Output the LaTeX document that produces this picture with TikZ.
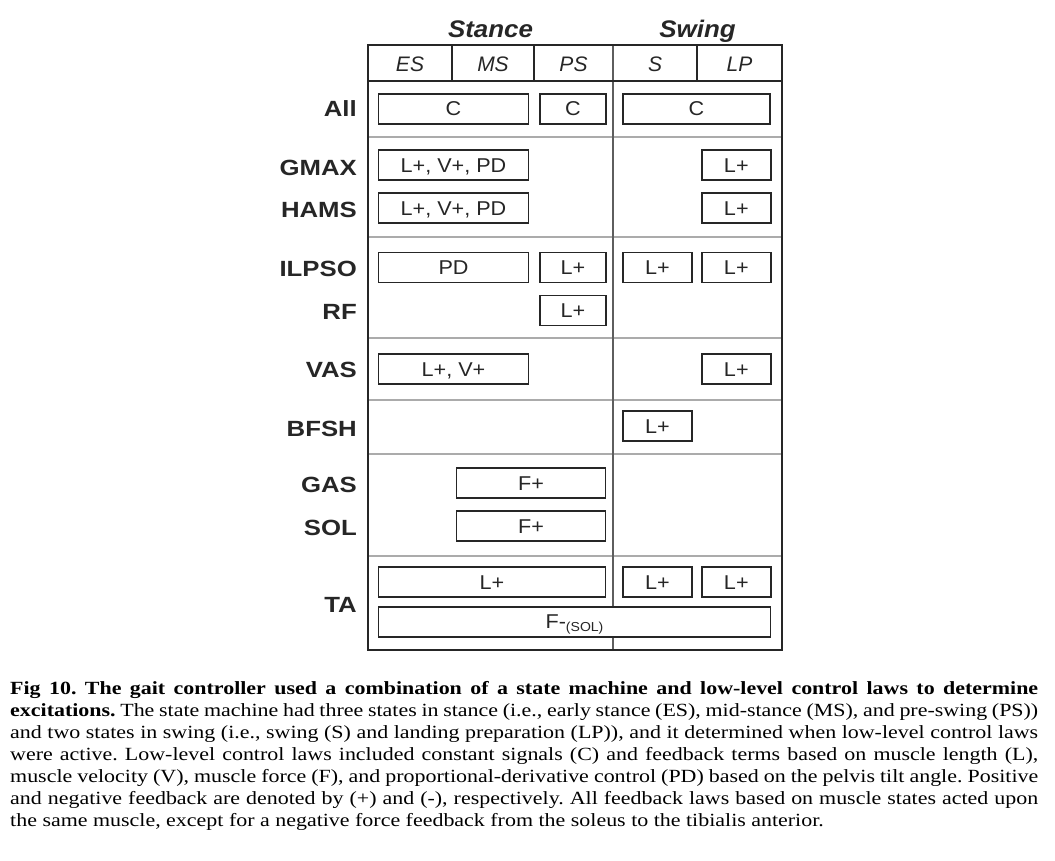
\documentclass[tikz,border=0pt]{standalone}
\usepackage{fontspec}
\setmainfont{Liberation Serif}
\setsansfont{Liberation Sans}
\newfontfamily\musclefont[FakeStretch=1.17]{Liberation Sans}
\newfontfamily\lawfont[FakeStretch=1.08]{Liberation Sans}
\newfontfamily\phasefont[FakeStretch=1.08]{Liberation Sans}
\newfontfamily\captionfont[FakeStretch=1.18]{Liberation Serif}
\usetikzlibrary{positioning}
\definecolor{gridgray}{HTML}{ABABAB}
\definecolor{rulegray}{HTML}{5E5E5E}
\definecolor{inkgray}{HTML}{262626}

\begin{document}
\begin{tikzpicture}[x=1pt,y=-1pt,font=\sffamily,color=inkgray]
      \tikzstyle{law}=[draw=inkgray,fill=white,line width=1.8pt,minimum height=30pt,inner sep=0pt,
        text height=14.3pt,text depth=0pt,font=\lawfont\fontsize{20}{24}\selectfont]
      \tikzstyle{muscle}=[anchor=base east,inner sep=0pt,font=\musclefont\bfseries\fontsize{22}{26}\selectfont]
      \tikzstyle{state}=[inner sep=0pt,font=\sffamily\itshape\fontsize{21}{25}\selectfont]
      \tikzstyle{phase}=[anchor=base,inner sep=0pt,font=\phasefont\bfseries\itshape\fontsize{24}{28}\selectfont]
      \useasboundingbox (0,0) rectangle (1055,860);

      % table grid
      \foreach \y in {137,237,338,400,454,556}
        \draw[gridgray,line width=2pt] (368,\y) -- (782,\y);
      \draw[rulegray,line width=1.6pt] (613,45) -- (613,650);
      \foreach \x in {452,534,697}
        \draw[inkgray,line width=1.6pt] (\x,45) -- (\x,81);
      \draw[inkgray,line width=1.6pt] (368,81) -- (782,81);
      \draw[inkgray,line width=2pt] (368,45) rectangle (782,650);

      \begin{scope}
        \node[phase](stance) at (490.5,37.5){Stance};
        \node[phase](swing) at (697.5,37.5){Swing};

        \node[state](es) at (410,64){ES};
        \node[state](ms) at (493,64){MS};
        \node[state](ps) at (573.5,64){PS};
        \node[state](s) at (655,64){S};
        \node[state](lp) at (739.5,64){LP};

        % muscles
        \node[muscle](all) at (357,116.7){All};
        \node[muscle](gmax) at (357,175){GMAX};
        \node[muscle](hams) at (357,217.3){HAMS};
        \node[muscle](ilpso) at (357,276.7){ILPSO};
        \node[muscle](rf) at (357,319.3){RF};
        \node[muscle](vas) at (357,377.3){VAS};
        \node[muscle](bfsh) at (357,436.7){BFSH};
        \node[muscle](gas) at (357,492.3){GAS};
        \node[muscle](sol) at (357,535){SOL};
        \node[muscle](ta) at (357,612.3){TA};

        % control laws
        \node[law,minimum width=150pt](allst) at (453.5,108.8){C};
        \node[law,minimum width=66pt](allps) at (573,108.8){C};
        \node[law,minimum width=147pt](allsw) at (696.5,108.8){C};

        \node[law,minimum width=150pt](gmaxst) at (453.5,165){L+, V+, PD};
        \node[law,minimum width=69pt](gmaxlp) at (736.3,165){L+};

        \node[law,minimum width=150pt](hamsst) at (453.5,208){L+, V+, PD};
        \node[law,minimum width=69pt](hamslp) at (736.3,208){L+};

        \node[law,minimum width=150pt](ilpsost) at (453.5,267.5){PD};
        \node[law,minimum width=66pt](ilpsops) at (573,267.5){L+};
        \node[law,minimum width=69pt](ilpsos) at (657.5,267.5){L+};
        \node[law,minimum width=69pt](ilpsolp) at (736.3,267.5){L+};

        \node[law,minimum width=66pt](rfps) at (573,310.5){L+};

        \node[law,minimum width=150pt](vasst) at (453.5,369.3){L+, V+};
        \node[law,minimum width=69pt](vaslp) at (736.3,369.3){L+};

        \node[law,minimum width=69pt](bfshs) at (657.5,426){L+};

        \node[law,minimum width=149pt](gasst) at (531,483){F+};
        \node[law,minimum width=149pt](solst) at (531,526){F+};

        \node[law,minimum width=227pt](tast) at (492,582){L+};
        \node[law,minimum width=69pt](tas) at (657.5,582){L+};
        \node[law,minimum width=69pt](talp) at (736.3,582){L+};
        \node[law,minimum width=392pt](tasol) at (574.5,621.7){F-\raisebox{-3pt}{\fontsize{13}{15}\selectfont(SOL)}};
      \end{scope}

      % caption
      \node(caption)[anchor=north west,inner sep=0pt,text width=1028pt,align=justify,color=black,
        font=\captionfont\fontsize{18.6}{22}\selectfont] at (10,681){\tolerance=9999\frenchspacing
        \textbf{Fig 10. The gait controller used a combination of a state machine and low-level control laws to determine}\linebreak
        \textbf{excitations.} The state machine had three states in stance (i.e., early stance (ES), mid-stance (MS), and pre-swing (PS))\linebreak
        and two states in swing (i.e., swing (S) and landing preparation (LP)), and it determined when low-level control laws\linebreak
        were active. Low-level control laws included constant signals (C) and feedback terms based on muscle length (L),\linebreak
        muscle velocity (V), muscle force (F), and proportional-derivative control (PD) based on the pelvis tilt angle. Positive\linebreak
        and negative feedback are denoted by (+) and (-), respectively. All feedback laws based on muscle states acted upon\linebreak
        the same muscle, except for a negative force feedback from the soleus to the tibialis anterior.};
\end{tikzpicture}
\end{document}
